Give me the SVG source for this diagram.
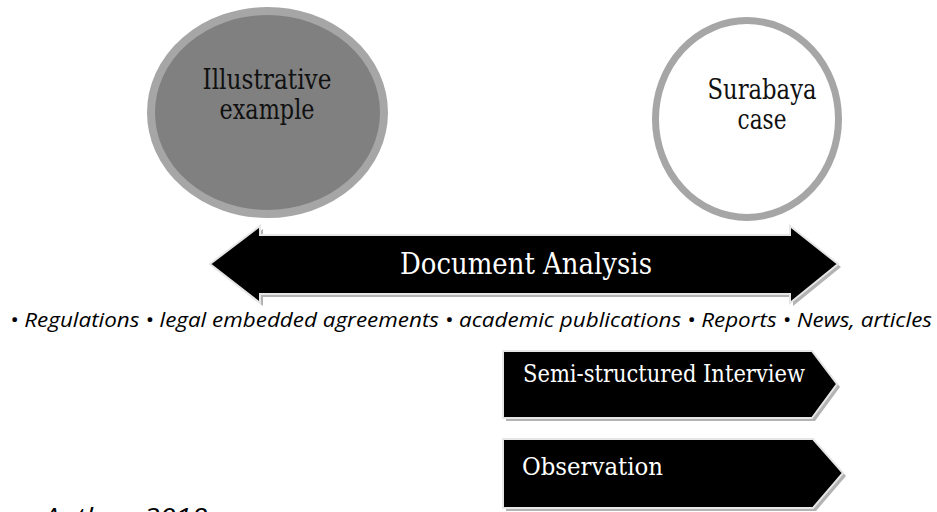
<svg xmlns="http://www.w3.org/2000/svg" width="937" height="512" viewBox="0 0 937 512">
  <style>
    .serif { font-family: "DejaVu Serif", "Liberation Serif", serif; }
    .sans-it { font-family: "Open Sans", "Liberation Sans", sans-serif; font-style: italic; }
    .block { fill: #000000; stroke: #e6e6e6; stroke-width: 2; }
    .shadow { fill: #b3b3b3; }
    .ring { stroke: #a6a6a6; }
  </style>
  <rect width="937" height="512" fill="#ffffff"/>

  <g id="illustrative-example">
    <ellipse class="ring" cx="267.5" cy="112.5" rx="116.5" ry="101.5" fill="#808080" stroke-width="8"/>
    <text class="serif" x="267" y="89" font-size="27" text-anchor="middle" fill="#111111" textLength="129" lengthAdjust="spacingAndGlyphs">Illustrative</text>
    <text class="serif" x="267" y="119" font-size="27" text-anchor="middle" fill="#111111" textLength="95" lengthAdjust="spacingAndGlyphs">example</text>
  </g>

  <g id="surabaya-case">
    <ellipse class="ring" cx="747" cy="119" rx="91.5" ry="98.5" fill="#ffffff" stroke-width="7"/>
    <text class="serif" x="762" y="99" font-size="27" text-anchor="middle" fill="#111111" textLength="109" lengthAdjust="spacingAndGlyphs">Surabaya</text>
    <text class="serif" x="762" y="129" font-size="27" text-anchor="middle" fill="#111111" textLength="49" lengthAdjust="spacingAndGlyphs">case</text>
  </g>

  <g id="document-analysis">
    <path class="shadow" d="M213,267 L263,229 L263,238 L793,238 L793,229 L841,267 L793,306 L793,297 L263,297 L263,306 Z"/>
    <path class="block" d="M210,264 L260,226 L260,235 L790,235 L790,226 L838,264 L790,303 L790,294 L260,294 L260,303 Z"/>
    <text class="serif" x="526" y="274" font-size="30" text-anchor="middle" fill="#ffffff" textLength="252" lengthAdjust="spacingAndGlyphs">Document Analysis</text>
  </g>

  <g id="document-sources">
    <text class="sans-it" x="10" y="327" font-size="20" fill="#000000" textLength="922" lengthAdjust="spacingAndGlyphs">• Regulations • legal embedded agreements • academic publications • Reports • News, articles</text>
  </g>

  <g id="semi-structured-interview">
    <path class="shadow" d="M506,354 L815,354 L840,387 L815,421 L506,421 Z"/>
    <path class="block" d="M503,351 L812,351 L837,384 L812,418 L503,418 Z"/>
    <text class="serif" x="523" y="382" font-size="24" fill="#ffffff" textLength="282" lengthAdjust="spacingAndGlyphs">Semi-structured Interview</text>
  </g>

  <g id="observation">
    <path class="shadow" d="M506,442 L816,442 L846,476 L816,511 L506,511 Z"/>
    <path class="block" d="M503,439 L813,439 L843,473 L813,508 L503,508 Z"/>
    <text class="serif" x="522" y="475" font-size="24" fill="#ffffff" textLength="141" lengthAdjust="spacingAndGlyphs">Observation</text>
  </g>

  <g id="source-note">
    <text class="sans-it" x="2" y="526" font-size="26" fill="#000000" textLength="205" lengthAdjust="spacingAndGlyphs">ce: Author, 2018</text>
  </g>

  <g id="connectors"/>
</svg>
